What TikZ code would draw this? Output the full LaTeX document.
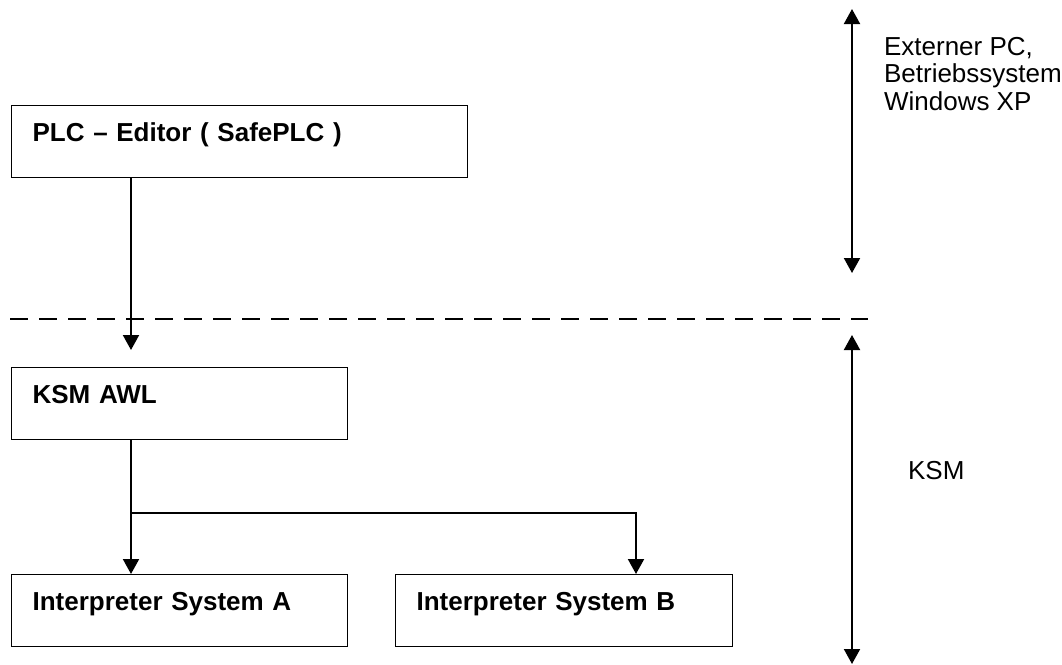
\documentclass[tikz,border=0pt]{standalone}
\usepackage{fontspec}
\setmainfont{Liberation Sans}
\usetikzlibrary{arrows.meta}

\begin{document}
\begin{tikzpicture}[
    x=0.5pt, y=-0.5pt,
    >={Triangle[length=7.5pt, width=8pt]},
    every node/.style={font=\fontsize{13}{13.75}\selectfont},
    box/.style={draw, line width=0.6pt, anchor=north west, inner xsep=10.5pt, inner ysep=0pt,
        text height=18pt, text depth=18pt, align=left, font=\fontsize{13}{13.75}\selectfont\bfseries},
    conn/.style={->, line width=1pt},
    span/.style={<->, line width=1pt}
]
\useasboundingbox (0,0) rectangle (1062,665);

\node[box, text width=207pt] (plc) at (11,105) {PLC – Editor ( SafePLC )};
\node[box, text width=147pt] (ksm) at (11,367) {KSM AWL};
\node[box, text width=147pt] (ia) at (11,574) {Interpreter System A};
\node[box, text width=147.5pt] (ib) at (395,574) {Interpreter System B};

\coordinate (dl) at (10,319);
\coordinate (dr) at (868,319);
\draw[line width=0.7pt, dash pattern=on 9pt off 5.5pt] (dl) -- (dr);

\draw[conn, shorten >=8.5pt] ([xshift=60pt]plc.south west) -- ([xshift=60pt]ksm.north west);
\draw[conn] ([xshift=60pt]ksm.south west) -- ([xshift=60pt]ia.north west);
\draw[conn] ([xshift=60pt]ksm.south west) ++(0,73) -| ([xshift=120.5pt]ib.north west);

\coordinate (pc top) at (852,9);
\coordinate (pc bot) at (852,273);
\coordinate (ksm top) at (852,335);
\coordinate (ksm bot) at (852,664);
\draw[span] (pc top) -- (pc bot);
\draw[span] (ksm top) -- (ksm bot);

\node[anchor=base west, align=left] (pclabel) at (877,110) {Externer PC,\\Betriebssystem\\Windows XP};
\node[anchor=base west] (ksmlabel) at (901,479) {KSM};
\end{tikzpicture}
\end{document}
